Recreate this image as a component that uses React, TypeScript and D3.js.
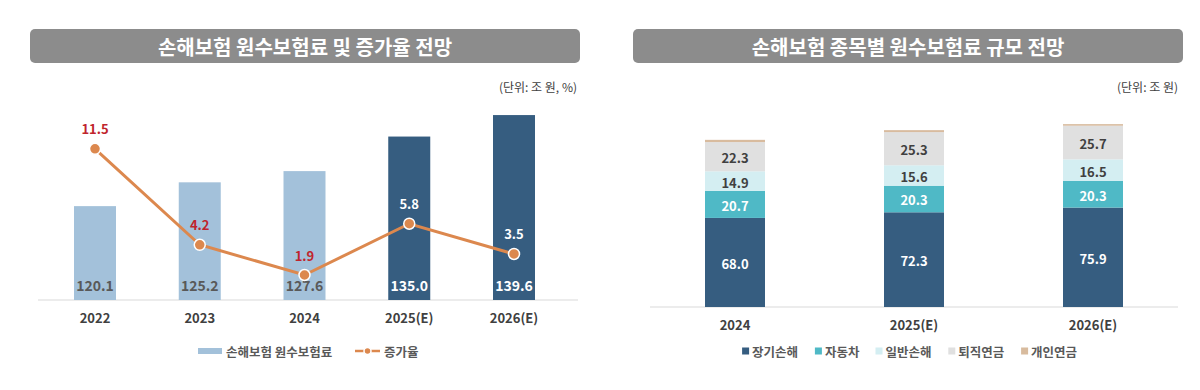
import * as d3 from "d3";

const years = ["2022", "2023", "2024", "2025(E)", "2026(E)"];
const premiums = [120.1, 125.2, 127.6, 135.0, 139.6];
const growthRates = [11.5, 4.2, 1.9, 5.8, 3.5];

const stackYears = ["2024", "2025(E)", "2026(E)"];
const lineNames = ["장기손해", "자동차", "일반손해", "퇴직연금", "개인연금"];
const longTerm = [68.0, 72.3, 75.9];
const auto = [20.7, 20.3, 20.3];
const general = [14.9, 15.6, 16.5];
const retirement = [22.3, 25.3, 25.7];
const personal = [1.7, 1.5, 1.2];

const FONT = "'Noto Sans CJK KR', 'Noto Sans', sans-serif";
const LIGHT = "#a3c1da";
const DARK = "#365d80";
const ORANGE = "#dc884e";
const RED = "#c0242c";
const segColors = ["#365d80", "#4fb9c6", "#d4eef2", "#e0e0e0", "#d8bb9e"];
const segText = ["#fff", "#fff", "#404040", "#404040", "#404040"];

function Title({ x, w, text }: { x: number; w: number; text: string }) {
  return (
    <g>
      <rect x={x} y={29} width={w} height={34} rx={5} fill="#8c8c8c" />
      <text x={x + w / 2} y={46.5} fill="#fff" fontSize={20} fontWeight="bold"
        textAnchor="middle" dominantBaseline="central">{text}</text>
    </g>
  );
}

function LeftChart() {
  const base = 300;
  const x = d3.scalePoint<string>().domain(years).range([95, 514]);
  const yBar = d3.scaleLinear().domain([100, 140]).range([base, base - 4.67 * 40]);
  const yRate = d3.scaleLinear().domain([0, 14]).range([base, base - 13.15 * 14]);
  const line = d3.line<number>()
    .x((_, i) => x(years[i])!)
    .y((d) => yRate(d));
  const bw = 42;
  return (
    <g>
      <Title x={30} w={550} text="손해보험 원수보험료 및 증가율 전망" />
      <text x={577} y={86} fontSize={12} fill="#404040" textAnchor="end"
        dominantBaseline="central">(단위: 조 원, %)</text>
      <line x1={38} x2={578} y1={base} y2={base} stroke="#d9d9d9" />
      {years.map((yr, i) => {
        const est = yr.includes("(E)");
        return (
          <g key={yr}>
            <rect x={x(yr)! - bw / 2} y={yBar(premiums[i])} width={bw}
              height={base - yBar(premiums[i])} fill={est ? DARK : LIGHT} />
            <text x={x(yr)} y={285} fontSize={14} fontWeight="bold" textAnchor="middle"
              dominantBaseline="central" fill={est ? "#fff" : "#595959"}>
              {premiums[i].toFixed(1)}
            </text>
            <text x={x(yr)} y={317} fontSize={13} fontWeight="bold" textAnchor="middle"
              dominantBaseline="central" fill="#404040">{yr}</text>
          </g>
        );
      })}
      <path d={line(growthRates)!} fill="none" stroke={ORANGE} strokeWidth={3} />
      {years.map((yr, i) => {
        const est = yr.includes("(E)");
        return (
          <g key={"p" + yr}>
            <circle cx={x(yr)} cy={yRate(growthRates[i])} r={5.5} fill={ORANGE}
              stroke="#fff" strokeWidth={1.5} />
            <text x={x(yr)} y={yRate(growthRates[i]) - 20} fontSize={13} fontWeight="bold"
              textAnchor="middle" dominantBaseline="central" fill={est ? "#fff" : RED}>
              {growthRates[i].toFixed(1)}
            </text>
          </g>
        );
      })}
      <g>
        <rect x={198} y={348} width={24} height={6} fill={LIGHT} />
        <text x={226} y={351} fontSize={12.5} fontWeight="bold" fill="#595959"
          dominantBaseline="central">손해보험 원수보험료</text>
        <line x1={355} x2={380} y1={351} y2={351} stroke={ORANGE} strokeWidth={2.5} />
        <circle cx={367.5} cy={351} r={3.5} fill={ORANGE} stroke="#fff" strokeWidth={1.5} />
        <text x={384} y={351} fontSize={12.5} fontWeight="bold" fill="#595959"
          dominantBaseline="central">증가율</text>
      </g>
    </g>
  );
}

function RightChart() {
  const base = 307;
  const x = d3.scalePoint<string>().domain(stackYears).range([735, 1093]);
  const y = d3.scaleLinear().domain([0, 140]).range([base, base - 1.31 * 140]);
  const series = [longTerm, auto, general, retirement, personal];
  const rows = stackYears.map((yr, i) => {
    const r: Record<string, number | string> = { year: yr };
    lineNames.forEach((n, k) => (r[n] = series[k][i]));
    return r;
  });
  const stacked = d3.stack<Record<string, number | string>>().keys(lineNames)(rows);
  const bw = 60;

  // legend widths from label lengths
  let lx = 0;
  const items = lineNames.map((n) => {
    const w = 7 + 3 + n.length * 12.2;
    const it = { n, x: lx, w };
    lx += w + 14;
    return it;
  });
  const totalW = lx - 14;
  const lStart = 911 - totalW / 2;

  return (
    <g>
      <Title x={633} w={550} text="손해보험 종목별 원수보험료 규모 전망" />
      <text x={1178} y={86} fontSize={12} fill="#404040" textAnchor="end"
        dominantBaseline="central">(단위: 조 원)</text>
      <line x1={650} x2={1178} y1={base} y2={base} stroke="#d9d9d9" />
      {stacked.map((s, k) => (
        <g key={s.key}>
          {s.map((d, i) => {
            const yr = stackYears[i];
            const h = y(d[0]) - y(d[1]);
            return (
              <g key={yr}>
                <rect x={x(yr)! - bw / 2} y={y(d[1])} width={bw} height={h} fill={segColors[k]} />
                {k < 4 && (
                  <text x={x(yr)} y={(y(d[0]) + y(d[1])) / 2 + 1} fontSize={13} fontWeight="bold"
                    textAnchor="middle" dominantBaseline="central" fill={segText[k]}>
                    {series[k][i].toFixed(1)}
                  </text>
                )}
              </g>
            );
          })}
        </g>
      ))}
      {stackYears.map((yr) => (
        <text key={yr} x={x(yr)} y={324} fontSize={13} fontWeight="bold" textAnchor="middle"
          dominantBaseline="central" fill="#404040">{yr}</text>
      ))}
      {items.map((it, k) => (
        <g key={it.n}>
          <rect x={lStart + it.x} y={347.5} width={7} height={7} fill={segColors[k]} />
          <text x={lStart + it.x + 10} y={351} fontSize={12.5} fontWeight="bold" fill="#595959"
            dominantBaseline="central">{it.n}</text>
        </g>
      ))}
    </g>
  );
}

export default function App() {
  return (
    <svg width={1200} height={390} style={{ position: "absolute", left: 0, top: 0, background: "#fff" }}
      fontFamily={FONT}>
      <LeftChart />
      <RightChart />
    </svg>
  );
}
